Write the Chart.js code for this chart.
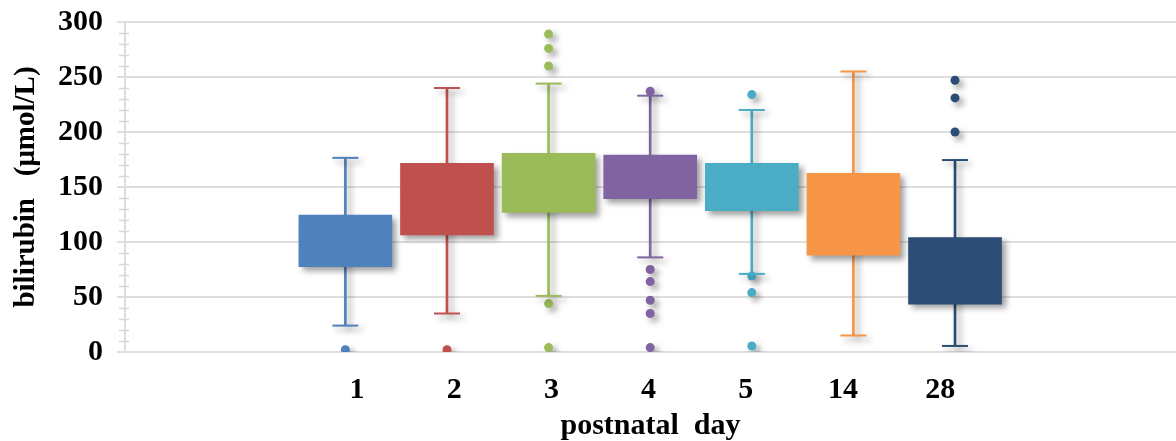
<!DOCTYPE html>
<html>
<head>
<meta charset="utf-8">
<script src="https://cdn.jsdelivr.net/npm/chart.js@4.4.1/dist/chart.umd.min.js"></script>
<style>
    body { margin: 0; background: #fff; }
    #box { width: 1176px; height: 441px; }
</style>
</head>
<body>
<div id="box"><canvas id="bilirubinChart"></canvas></div>
<script>
    // Bilirubin (µmol/L) by postnatal day
    const days = ["1", "2", "3", "4", "5", "14", "28"];
    const q1 = [77.5, 106.5, 127, 139.5, 128.5, 88, 43.5];
    const q3 = [124.5, 171.5, 180.5, 179, 171.5, 162.5, 104];
    const whiskerLow = [24, 35, 51, 86, 71, 15, 5.5];
    const whiskerHigh = [176.5, 240, 244, 233, 220, 255, 174.5];
    const outliers = [
        [2],
        [2],
        [289, 276, 260, 44, 4],
        [237, 75, 64, 47, 35, 4],
        [234, 69, 54, 5.5],
        [],
        [247, 231, 200],
    ];
    const farben = ["#4f81bd", "#c0504d", "#9bbb59", "#8064a2", "#4bacc6", "#f79646", "#2c4d75"];

    const serif = "'Liberation Serif', 'Times New Roman', serif";

    const kappen = [];
    const kappenFarben = [];
    days.forEach((d, i) => {
        kappen.push({ x: i, y: whiskerLow[i] }, { x: i, y: whiskerHigh[i] });
        kappenFarben.push(farben[i], farben[i]);
    });

    const punkte = [];
    const punktFarben = [];
    outliers.forEach((werte, i) => {
        werte.forEach((v) => {
            punkte.push({ x: i, y: v });
            punktFarben.push(farben[i]);
        });
    });

    // soft drop shadow under every mark
    const schatten = {
        id: "schatten",
        beforeDatasetDraw(chart) {
            const ctx = chart.ctx;
            ctx.save();
            ctx.shadowColor = "rgba(0,0,0,0.38)";
            ctx.shadowBlur = 6;
            ctx.shadowOffsetX = 4;
            ctx.shadowOffsetY = 4;
        },
        afterDatasetDraw(chart) {
            chart.ctx.restore();
        },
    };

    // small minor ticks on the value axis every 10
    const nebenStriche = {
        id: "nebenStriche",
        beforeDatasetsDraw(chart) {
            const y = chart.scales.y;
            const ctx = chart.ctx;
            const links = chart.chartArea.left;
            ctx.save();
            ctx.strokeStyle = "#d9d9d9";
            ctx.lineWidth = 1.5;
            for (let v = 10; v < 300; v += 10) {
                if (v % 50 === 0) continue;
                const py = Math.round(y.getPixelForValue(v)) + 0.5;
                ctx.beginPath();
                ctx.moveTo(links - 6, py);
                ctx.lineTo(links + 4, py);
                ctx.stroke();
            }
            ctx.restore();
        },
    };

    const ohneRand = (axis) => {
        axis.paddingLeft = 0;
        axis.paddingRight = 0;
    };

    new Chart(document.getElementById("bilirubinChart"), {
        type: "bar",
        data: {
            datasets: [
                {
                    label: "box",
                    data: days.map((d, i) => ({ x: i, y: [q1[i], q3[i]] })),
                    backgroundColor: farben,
                    barThickness: 93,
                    grouped: false,
                    order: 0,
                },
                {
                    label: "whisker",
                    data: days.map((d, i) => ({ x: i, y: [whiskerLow[i], whiskerHigh[i]] })),
                    backgroundColor: farben,
                    barThickness: 2,
                    grouped: false,
                    order: 2,
                },
                {
                    type: "scatter",
                    label: "caps",
                    data: kappen,
                    pointStyle: "line",
                    pointRadius: 13,
                    borderWidth: 2,
                    borderColor: kappenFarben,
                    order: 1,
                },
                {
                    type: "scatter",
                    label: "outliers",
                    data: punkte,
                    pointStyle: "circle",
                    pointRadius: 4.5,
                    borderWidth: 0,
                    backgroundColor: punktFarben,
                    order: 1,
                },
            ],
        },
        options: {
            responsive: true,
            maintainAspectRatio: false,
            animation: false,
            layout: { autoPadding: false, padding: { top: 22, right: 0, bottom: 0, left: 0 } },
            plugins: {
                legend: { display: false },
                tooltip: { enabled: false },
            },
            scales: {
                x: {
                    type: "linear",
                    display: false,
                    offset: false,
                    grid: { offset: false },
                    ticks: { display: false },
                    min: -2.169,
                    max: 8.175,
                    afterFit: ohneRand,
                },
                xl: {
                    type: "linear",
                    position: "bottom",
                    offset: false,
                    min: -2.387,
                    max: 8.426,
                    grid: { display: false, offset: false },
                    border: { display: false },
                    afterBuildTicks: (axis) => {
                        axis.ticks = days.map((d, i) => ({ value: i }));
                    },
                    afterFit: (axis) => {
                        axis.height = 89;
                        ohneRand(axis);
                    },
                    ticks: {
                        autoSkip: false,
                        maxRotation: 0,
                        padding: 12,
                        color: "#000",
                        font: { family: serif, size: 30, weight: "bold" },
                        callback: (v) => days[v],
                    },
                    title: {
                        display: true,
                        text: "postnatal  day",
                        color: "#000",
                        font: { family: serif, size: 30, weight: "bold", lineHeight: 1 },
                        padding: { top: 0, bottom: 0 },
                    },
                },
                y: {
                    min: 0,
                    max: 300,
                    afterFit: (axis) => {
                        axis.width = 125;
                        axis.paddingTop = 0;
                        axis.paddingBottom = 0;
                    },
                    ticks: {
                        stepSize: 50,
                        padding: 14,
                        color: "#000",
                        font: { family: serif, size: 30, weight: "bold" },
                    },
                    grid: {
                        color: "#dedede",
                        lineWidth: 2,
                        tickLength: 8,
                    },
                    border: { display: true, color: "#dedede", width: 2 },
                    title: {
                        display: true,
                        text: "bilirubin   (\u03bcmol/L)",
                        color: "#000",
                        font: { family: serif, size: 29, weight: "bold" },
                        padding: { top: 9, bottom: 0 },
                    },
                },
            },
        },
        plugins: [schatten, nebenStriche],
    });
</script>
</body>
</html>
